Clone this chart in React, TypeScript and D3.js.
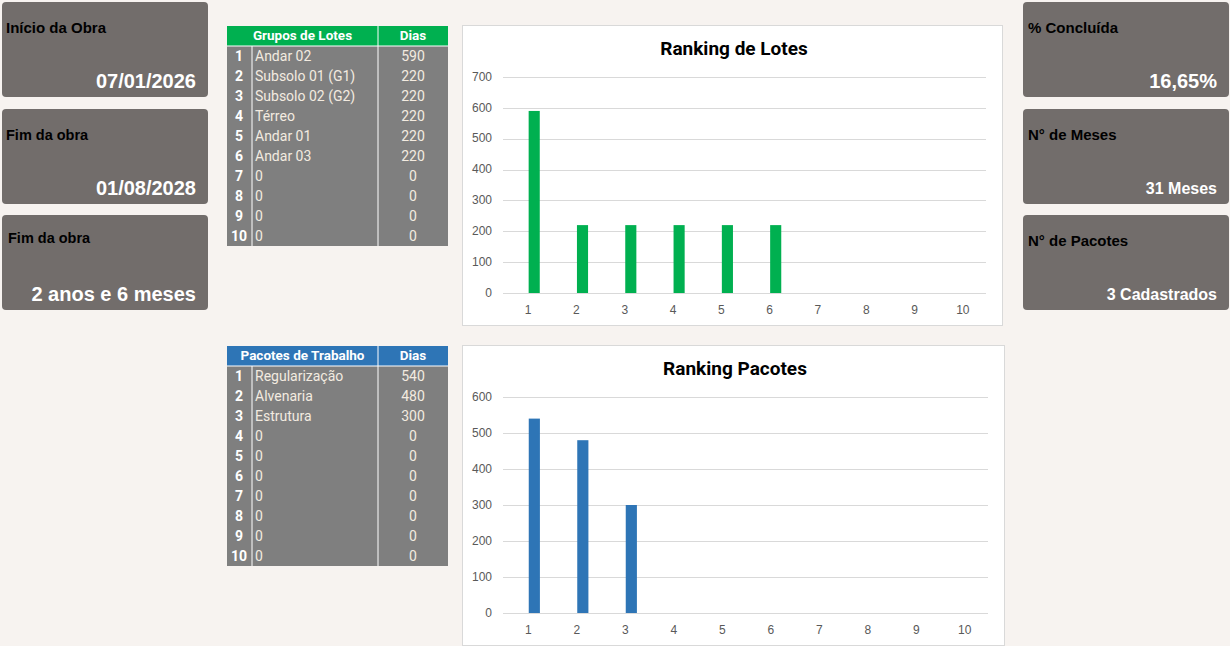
import * as d3 from "d3";

const ranks = ["1", "2", "3", "4", "5", "6", "7", "8", "9", "10"];
const loteNames = ["Andar 02", "Subsolo 01 (G1)", "Subsolo 02 (G2)", "Térreo", "Andar 01", "Andar 03", "0", "0", "0", "0"];
const loteDays = [590, 220, 220, 220, 220, 220, 0, 0, 0, 0];
const pacoteNames = ["Regularização", "Alvenaria", "Estrutura", "0", "0", "0", "0", "0", "0", "0"];
const pacoteDays = [540, 480, 300, 0, 0, 0, 0, 0, 0, 0];

const leftCards = [
  { title: "Início da Obra", value: "07/01/2026" },
  { title: "Fim da obra", value: "01/08/2028" },
  { title: "Fim da obra", value: "2 anos e 6 meses" },
];
const rightCards = [
  { title: "% Concluída", value: "16,65%" },
  { title: "N° de Meses", value: "31 Meses" },
  { title: "N° de Pacotes", value: "3 Cadastrados" },
];

const BG = "#f7f3f0";
const CARD = "#726d6b";
const CELL = "#7f7f7f";
const DIN = "Roboto, 'Noto Sans', sans-serif";
const ARIAL = "'Liberation Sans', Arial, sans-serif";

const cardTops = [2, 109, 215];

function Card({ x, y, title, value, titleSize, titleX, titleY, valueSize }: any) {
  return (
    <g>
      <rect x={x} y={y} width={206} height={95} rx={4} fill={CARD} />
      <text x={x + titleX} y={y + titleY} dominantBaseline="middle" fontFamily={ARIAL} fontWeight="bold" fontSize={titleSize} fill="#000">
        {title}
      </text>
      <text x={x + 194} y={y + 80.5} dominantBaseline="middle" textAnchor="end" fontFamily={ARIAL} fontWeight="bold" fontSize={valueSize} fill="#fff">
        {value}
      </text>
    </g>
  );
}

function Table({ x, y, header, color, names, days }: any) {
  const rowH = 20;
  const c1 = 25, c2 = 126, c3 = 70;
  return (
    <g fontFamily={DIN}>
      <rect x={x} y={y} width={c1 + c2 + c3} height={rowH} fill={color} />
      <text x={x + (c1 + c2) / 2} y={y + 10.5} dominantBaseline="middle" textAnchor="middle" fill="#fff" fontWeight="bold" fontSize={13.5}>
        {header}
      </text>
      <text x={x + c1 + c2 + c3 / 2} y={y + 10.5} dominantBaseline="middle" textAnchor="middle" fill="#fff" fontWeight="bold" fontSize={13.5}>
        Dias
      </text>
      <rect x={x} y={y + rowH} width={c1 + c2 + c3} height={rowH * 10} fill={CELL} />
      {ranks.map((r, i) => (
        <g key={r}>
          <text x={x + 12} y={y + rowH * (i + 1) + 11.5} dominantBaseline="middle" textAnchor="middle" fill="#fff" fontWeight="bold" fontSize={14}>
            {r}
          </text>
          <text x={x + c1 + 3} y={y + rowH * (i + 1) + 11.5} dominantBaseline="middle" fill="#f3ebe0" fontSize={14}>
            {names[i]}
          </text>
          <text x={x + c1 + c2 + c3 / 2} y={y + rowH * (i + 1) + 11.5} dominantBaseline="middle" textAnchor="middle" fill="#f3ebe0" fontSize={14}>
            {days[i]}
          </text>
        </g>
      ))}
      <line x1={x + c1} x2={x + c1} y1={y + rowH} y2={y + rowH * 11} stroke="#fff" strokeWidth={1} />
      <line x1={x + c1 + c2} x2={x + c1 + c2} y1={y} y2={y + rowH * 11} stroke="#fff" strokeWidth={1} />
      <line x1={x} x2={x + c1 + c2 + c3} y1={y + rowH} y2={y + rowH} stroke="#fff" strokeWidth={1} />
    </g>
  );
}

function BarChart({ x, y, w, h, title, values, max, color }: any) {
  const xs = d3.scaleBand<string>().domain(ranks).range([x + 41, x + w - 16]);
  const ys = d3.scaleLinear().domain([0, max]).range([y + 268, y + 52]);
  const ticks = ys.ticks(max / 100);
  const bw = xs.bandwidth() * 0.23;
  return (
    <g>
      <rect x={x + 0.5} y={y + 0.5} width={w} height={h} fill="#fff" stroke="#d9d9d9" />
      <text x={x + w / 2 + 2} y={y + 25} dominantBaseline="middle" textAnchor="middle" fontFamily={DIN} fontWeight="bold" fontSize={19} fill="#000">
        {title}
      </text>
      {ticks.map((t) => (
        <g key={t}>
          <line x1={x + 41} x2={x + w - 16} y1={Math.round(ys(t)) + 0.5} y2={Math.round(ys(t)) + 0.5} stroke="#d9d9d9" />
          <text x={x + 30} y={ys(t) + 0.5} dominantBaseline="middle" textAnchor="end" fontFamily={ARIAL} fontSize={12} fill="#595959">
            {t}
          </text>
        </g>
      ))}
      {values.map((v: number, i: number) => (
        <rect key={i} x={(xs(ranks[i]) as number) + xs.bandwidth() / 2 + 1.5} y={ys(v)} width={bw} height={ys(0) - ys(v)} fill={color} />
      ))}
      {ranks.map((r) => (
        <text key={r} x={(xs(r) as number) + xs.bandwidth() / 2 + 1} y={y + 285.5} dominantBaseline="middle" textAnchor="middle" fontFamily={ARIAL} fontSize={12} fill="#595959">
          {r}
        </text>
      ))}
    </g>
  );
}

export default function App() {
  return (
    <svg width={1230} height={646} style={{ position: "absolute", left: 0, top: 0, display: "block" }}>
      <rect width={1230} height={646} fill={BG} />
      {leftCards.map((c, i) => (
        <Card key={i} x={2} y={cardTops[i]} title={c.title} value={c.value}
          titleSize={i === 0 ? 15 : 14.5} titleX={i === 2 ? 6 : 4} titleY={i === 2 ? 24 : 27} valueSize={20} />
      ))}
      {rightCards.map((c, i) => (
        <Card key={i} x={1023} y={cardTops[i]} title={c.title} value={c.value}
          titleSize={15} titleX={5} titleY={i === 2 ? 27 : 27} valueSize={i === 0 ? 20 : 16} />
      ))}
      <Table x={227} y={26} header="Grupos de Lotes" color="#00b050" names={loteNames} days={loteDays} />
      <Table x={227} y={346} header="Pacotes de Trabalho" color="#2e75b6" names={pacoteNames} days={pacoteDays} />
      <BarChart x={462} y={25} w={540} h={300} title="Ranking de Lotes" values={loteDays} max={700} color="#00b050" />
      <BarChart x={462} y={345} w={542} h={300} title="Ranking Pacotes" values={pacoteDays} max={600} color="#2e75b6" />
    </svg>
  );
}
